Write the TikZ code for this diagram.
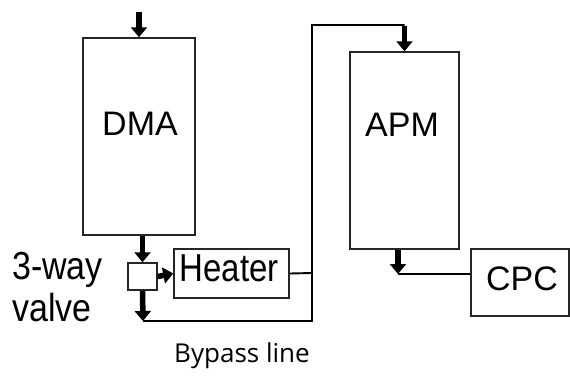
\documentclass[tikz,border=0pt]{standalone}
\usepackage{fontspec}
\setmainfont{Liberation Sans}
\newfontfamily\capfont{Open Sans}
\usetikzlibrary{arrows.meta}
\tikzset{
  unit box/.style={draw=black!85,line width=1.5pt,inner sep=0pt},
  unit text/.style={font=\fontsize{34}{34}\selectfont,inner sep=0pt},
  pipe/.style={black,line width=1.9pt},
  flow arrow/.style={black,line width=5.5pt,-{Triangle[length=10pt,width=16pt]}}
}

\begin{document}
\begin{tikzpicture}[x=1pt,y=-1pt]
  \useasboundingbox (0,0) rectangle (570,381);
  % units
  \node[unit box,minimum width=112pt,minimum height=197pt] (dma) at (139,136.5) {};
  \node[unit text] (dmatext) at (140,124) {DMA};
  \node[unit box,minimum width=109pt,minimum height=197pt] (apm) at (404.5,150.5) {};
  \node[unit text] (apmtext) at (402,125) {APM};
  \node[unit box,minimum width=98pt,minimum height=67pt] (cpc) at (520,282.5) {};
  \node[unit text] (cpctext) at (522,278.5) {CPC};
  \node[unit box,minimum width=115pt,minimum height=49pt] (heater) at (231.5,273.5) {};
  \node[unit text,font=\fontsize{33}{33}\selectfont] (heatertext) at (229,268) {\scalebox{1}[1.18]{Heater}};
  \node[unit box,minimum width=29pt,minimum height=27pt] (valve) at (142.5,276.5) {};
  % labels
  \node[unit text,anchor=west,align=left] (valvetext) at (12,287)
    {\scalebox{1}[1.15]{3-way}\\[4pt]\scalebox{1}[1.15]{valve}};
  \node[font=\capfont\fontsize{26}{26}\selectfont,inner sep=0pt] (bypasstext) at (242,356) {Bypass line};
  % free ends
  \coordinate (inlet) at (139,12);
  \coordinate (split) at (312,273);
  \coordinate (riser) at (312,25);
  \coordinate (bypass) at (143,321);
  \coordinate (apmout) at (398,274);
  % flows
  \draw[flow arrow] (inlet) -- (dma.north);
  \draw[flow arrow] (dma.south -| valve) -- (valve.north);
  \draw[flow arrow] (valve.east) -- (heater.west);
  \draw[flow arrow] (valve.south) -- (bypass);
  \draw[pipe] (heater.east) -- (split) -- (riser) -- (riser -| apm);
  \draw[pipe] (bypass) -- (bypass -| split) -- (split);
  \draw[flow arrow] ([yshift=-1pt]riser -| apm) -- (apm.north);
  \draw[flow arrow] (apm.south -| apmout) -- (apmout);
  \draw[pipe] (apmout) -- (apmout -| cpc.west);
\end{tikzpicture}
\end{document}
